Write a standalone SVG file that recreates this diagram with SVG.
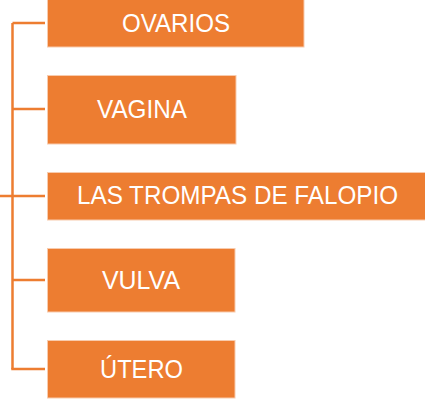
<svg xmlns="http://www.w3.org/2000/svg" width="425" height="401" viewBox="0 0 425 401">
<style>
.box{fill:#ED7D31;stroke:#F8CBAD;stroke-width:1}
.lbl{fill:#FFFFFF;font-family:"Liberation Sans",Arial,sans-serif;font-size:26px;text-anchor:middle;}
.conn{stroke:#ED7D31;stroke-width:2.5;fill:none}
</style>
<rect width="425" height="401" fill="#FFFFFF"/>
<g id="connectors">
<path class="conn" d="M12.5,23 V369"/>
<path class="conn" d="M12.5,23 H45 M12.5,109 H45 M0,196 H45 M12.5,280 H45 M11.25,369 H45"/>
</g>
<g id="node-ovarios">
<rect class="box" x="47.5" y="-1" width="256.5" height="48"/>
<text class="lbl" x="176" y="32" textLength="108" lengthAdjust="spacingAndGlyphs">OVARIOS</text>
</g>
<g id="node-vagina">
<rect class="box" x="47.5" y="75.5" width="188.5" height="68.5"/>
<text class="lbl" x="142" y="118" textLength="90" lengthAdjust="spacingAndGlyphs">VAGINA</text>
</g>
<g id="node-trompas">
<rect class="box" x="47.5" y="172.5" width="378" height="47.5"/>
<text class="lbl" x="237.5" y="204" textLength="321" lengthAdjust="spacingAndGlyphs">LAS TROMPAS DE FALOPIO</text>
</g>
<g id="node-vulva">
<rect class="box" x="47.5" y="248.5" width="187.5" height="63.5"/>
<text class="lbl" x="141" y="289" textLength="78" lengthAdjust="spacingAndGlyphs">VULVA</text>
</g>
<g id="node-utero">
<rect class="box" x="47.5" y="340.5" width="187.5" height="57.5"/>
<text class="lbl" x="141.5" y="378" textLength="83" lengthAdjust="spacingAndGlyphs">ÚTERO</text>
</g>
</svg>
